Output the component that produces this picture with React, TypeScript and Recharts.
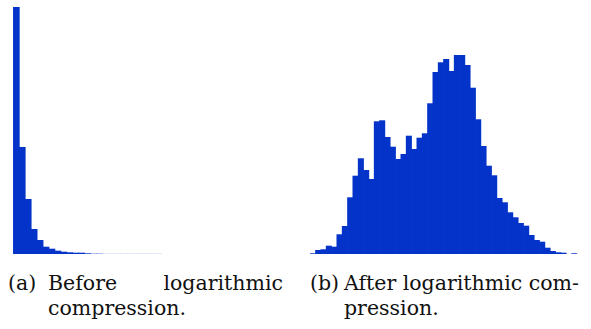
import { BarChart, Bar, XAxis, YAxis } from 'recharts'

// bin counts (arbitrary units)
const beforeBins: number[] = [
  247.3, 107.3, 55.3, 25.3, 14.3, 7.6, 5.6, 3.6, 2.6, 2.0,
  1.6, 1.6, 1.0, 0.6, 0.6, 0.4, 0.4, 0.4, 0.4, 0.4,
  0.4, 0.4, 0.4, 0.4, 0.4, 0, 0, 0.3, 0.3, 0,
  0, 0.3, 0, 0, 0, 0, 0.3, 0.3, 0, 0,
  0, 0, 0, 0, 0.3, 0,
]

const afterBins: number[] = [
  1.0, 4.3, 5.0, 8.6, 7.6, 20.0, 28.3, 57.0, 78.6, 96.0,
  84.3, 75.3, 133.0, 134.0, 117.3, 107.6, 95.3, 100.3, 118.6, 105.3,
  116.6, 121.0, 151.0, 182.3, 192.0, 195.3, 183.3, 199.3, 199.3, 189.3,
  166.6, 135.0, 108.3, 88.6, 79.0, 56.3, 52.0, 42.0, 37.0, 31.3,
  28.6, 19.3, 14.3, 12.6, 6.6, 3.3, 2.0, 1.6, 0, 1.0,
]

const captions = {
  a: ['(a)', 'Before', 'logarithmic', 'compression.'],
  b: ['(b)', 'After logarithmic com-', 'pression.'],
}

const BLUE = '#0333c9'

const toRows = (bins: number[]) => bins.map((v, i) => ({ bin: i, count: v }))

function Histogram({ bins, width, height }: { bins: number[]; width: number; height: number }) {
  const band = width / bins.length
  // histogram bars fill the whole band; a small overlap hides antialias seams
  const BinShape = (p: any) => {
    if (!p.height || p.height <= 0) return null
    const left = p.x + p.width / 2 - band / 2
    return <rect x={left} y={p.y} width={band + 0.7} height={p.height} fill={BLUE} />
  }
  return (
    <BarChart
      width={width + 1}
      height={height}
      data={toRows(bins)}
      margin={{ top: 0, right: 1, bottom: 0, left: 0 }}
      barCategoryGap={0}
      barGap={0}
    >
      <XAxis dataKey="bin" hide />
      <YAxis hide domain={[0, 'dataMax']} />
      <Bar dataKey="count" fill={BLUE} shape={BinShape} isAnimationActive={false} />
    </BarChart>
  )
}

const textStyle: React.CSSProperties = {
  position: 'absolute',
  fontFamily: '"DejaVu Serif", serif',
  fontSize: 20.5,
  color: '#111',
  whiteSpace: 'nowrap',
  lineHeight: 1,
}

export default function App() {
  return (
    <div style={{ position: 'absolute', left: 0, top: 0, width: 591, height: 329, background: '#fff', overflow: 'hidden' }}>
      <div style={{ position: 'absolute', left: 12.7, top: 7 }}>
        <Histogram bins={beforeBins} width={273.2} height={247.3} />
      </div>
      <div style={{ position: 'absolute', left: 310, top: 55 }}>
        <Histogram bins={afterBins} width={266.7} height={199.3} />
      </div>

      <span style={{ ...textStyle, left: 8, top: 273 }}>{captions.a[0]}</span>
      <span style={{ ...textStyle, left: 48, top: 273 }}>{captions.a[1]}</span>
      <span style={{ ...textStyle, right: 591 - 283, top: 273 }}>{captions.a[2]}</span>
      <span style={{ ...textStyle, left: 48, top: 298 }}>{captions.a[3]}</span>

      <span style={{ ...textStyle, left: 310, top: 273 }}>{captions.b[0]}</span>
      <span style={{ ...textStyle, left: 344, top: 273 }}>{captions.b[1]}</span>
      <span style={{ ...textStyle, left: 344, top: 298 }}>{captions.b[2]}</span>
    </div>
  )
}
